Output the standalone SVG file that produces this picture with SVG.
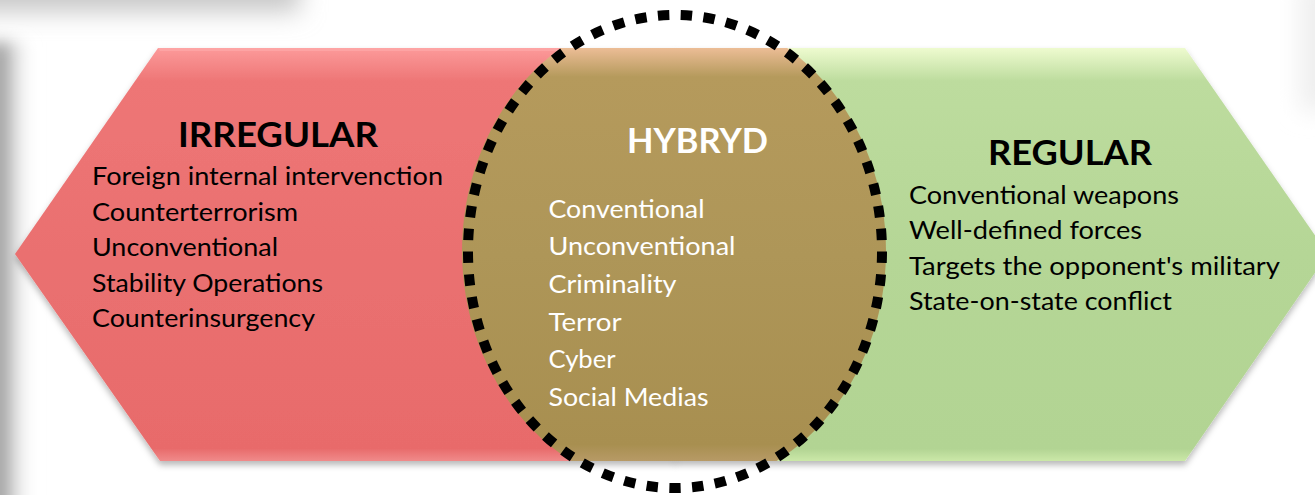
<svg xmlns="http://www.w3.org/2000/svg" width="1315" height="495" viewBox="0 0 1315 495">
<style>
.title{font-family:Lato,"Open Sans","Liberation Sans",sans-serif;font-weight:700;font-size:34px}
.item{font-family:Lato,"Open Sans","Liberation Sans",sans-serif;font-size:24.5px}
.dark{fill:#000}
.light{fill:#fff}
</style>
<defs>
<filter id="blur12" x="-50%" y="-50%" width="200%" height="200%"><feGaussianBlur stdDeviation="12"/></filter>
<filter id="blur8" x="-50%" y="-50%" width="200%" height="200%"><feGaussianBlur stdDeviation="8"/></filter>
<filter id="shadow" x="-10%" y="-10%" width="120%" height="130%"><feDropShadow dx="0" dy="4" stdDeviation="3" flood-color="#000" flood-opacity="0.28"/></filter>
<linearGradient id="redG" x1="0" y1="48" x2="0" y2="461" gradientUnits="userSpaceOnUse">
<stop offset="0" stop-color="#fc9a9a"/>
<stop offset="0.08" stop-color="#ee7676"/>
<stop offset="0.5" stop-color="#ea7070"/>
<stop offset="0.97" stop-color="#e86b6b"/>
<stop offset="1" stop-color="#f08a8a"/>
</linearGradient>
<linearGradient id="greenG" x1="0" y1="48" x2="0" y2="461" gradientUnits="userSpaceOnUse">
<stop offset="0" stop-color="#eefbcf"/>
<stop offset="0.08" stop-color="#bddc9e"/>
<stop offset="0.5" stop-color="#b5d696"/>
<stop offset="0.97" stop-color="#b2d493"/>
<stop offset="1" stop-color="#cbe8a8"/>
</linearGradient>
<linearGradient id="brownG" x1="0" y1="48" x2="0" y2="461" gradientUnits="userSpaceOnUse">
<stop offset="0" stop-color="#ecbd96"/>
<stop offset="0.07" stop-color="#b59a5c"/>
<stop offset="0.5" stop-color="#ae9658"/>
<stop offset="0.96" stop-color="#a88f50"/>
<stop offset="1" stop-color="#b79a66"/>
</linearGradient>
<linearGradient id="leftShade" x1="0" y1="0" x2="1" y2="0">
<stop offset="0" stop-color="#7c7c7c"/>
<stop offset="0.4" stop-color="#b5b5b5"/>
<stop offset="1" stop-color="#ffffff" stop-opacity="0"/>
</linearGradient>
<clipPath id="band"><rect x="0" y="48" width="1315" height="413"/></clipPath>
</defs>
<rect x="0" y="0" width="1315" height="495" fill="#ffffff"/>
<!-- background slide shadows -->
<rect x="-60" y="-60" width="360" height="72" fill="#c8c8c8" filter="url(#blur12)"/>
<g filter="url(#blur8)">
<rect x="-10" y="42" width="42" height="480" fill="url(#leftShade)"/>
</g>
<rect x="1300" y="-20" width="40" height="130" fill="#eeeeee" filter="url(#blur12)"/>

<g id="irregular">
<polygon points="158,48 676,48 676,461 160,461 15,254" fill="url(#redG)" filter="url(#shadow)"/>
<polygon points="158,48 676,48 676,51 160,51" fill="#ffb0b0" opacity="0.5"/>
<text class="title dark" x="178" y="146.5" textLength="200" lengthAdjust="spacingAndGlyphs">IRREGULAR</text>
<text class="item dark" x="92" y="185" textLength="351" lengthAdjust="spacingAndGlyphs">Foreign internal intervenction</text>
<text class="item dark" x="92" y="220.5" textLength="206" lengthAdjust="spacingAndGlyphs">Counterterrorism</text>
<text class="item dark" x="92" y="256" textLength="186" lengthAdjust="spacingAndGlyphs">Unconventional</text>
<text class="item dark" x="92" y="291.5" textLength="231" lengthAdjust="spacingAndGlyphs">Stability Operations</text>
<text class="item dark" x="92" y="327" textLength="223" lengthAdjust="spacingAndGlyphs">Counterinsurgency</text>
</g>

<g id="regular">
<polygon points="675,48 1185,48 1328,254 1185,461 675,461" fill="url(#greenG)" filter="url(#shadow)"/>
<text class="title dark" x="988" y="165" textLength="164" lengthAdjust="spacingAndGlyphs">REGULAR</text>
<text class="item dark" x="909" y="204" textLength="270" lengthAdjust="spacingAndGlyphs">Conventional weapons</text>
<text class="item dark" x="909" y="239.3" textLength="233" lengthAdjust="spacingAndGlyphs">Well-defined forces</text>
<text class="item dark" x="909" y="274.5" textLength="371" lengthAdjust="spacingAndGlyphs">Targets the opponent's military</text>
<text class="item dark" x="909" y="310" textLength="263" lengthAdjust="spacingAndGlyphs">State-on-state conflict</text>
</g>

<g id="hybrid">
<ellipse cx="674" cy="251" rx="212" ry="240" fill="url(#brownG)" clip-path="url(#band)"/>
<text class="title light" x="627" y="153.3" textLength="141" lengthAdjust="spacingAndGlyphs">HYBRYD</text>
<text class="item light" x="548.5" y="217.7" textLength="156" lengthAdjust="spacingAndGlyphs">Conventional</text>
<text class="item light" x="548.5" y="255" textLength="187" lengthAdjust="spacingAndGlyphs">Unconventional</text>
<text class="item light" x="548.5" y="293" textLength="128" lengthAdjust="spacingAndGlyphs">Criminality</text>
<text class="item light" x="548.5" y="330.7" textLength="73" lengthAdjust="spacingAndGlyphs">Terror</text>
<text class="item light" x="548.5" y="368.3" textLength="67" lengthAdjust="spacingAndGlyphs">Cyber</text>
<text class="item light" x="548.5" y="406" textLength="160" lengthAdjust="spacingAndGlyphs">Social Medias</text>
<ellipse cx="675" cy="251.5" rx="207" ry="236.5" fill="none" stroke="#000" stroke-width="10" stroke-dasharray="5 5" pathLength="610"/>
</g>
<g id="connectors"/>
</svg>
